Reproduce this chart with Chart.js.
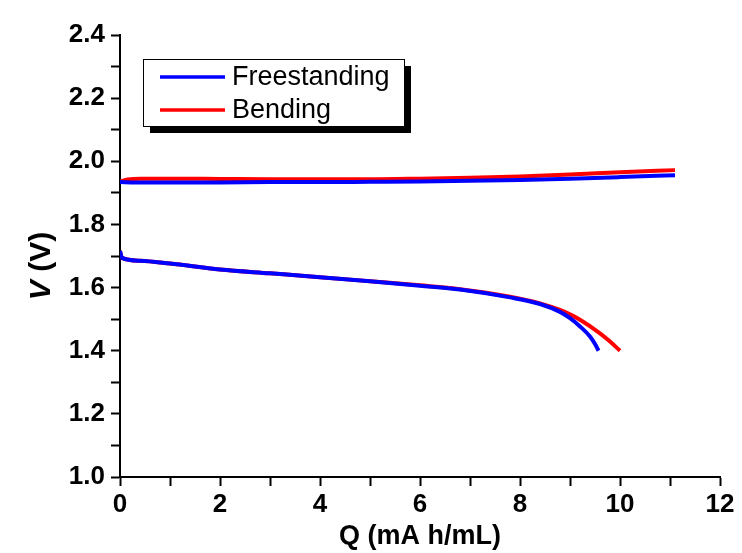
<!DOCTYPE html>
<html>
<head>
<meta charset="utf-8">
<script src="https://cdn.jsdelivr.net/npm/chart.js@4.4.1/dist/chart.umd.min.js"></script>
<style>
  html, body { margin: 0; padding: 0; background: #fff; }
  #wrap { width: 742px; height: 553px; }
</style>
</head>
<body>
<div id="wrap"><canvas id="myChart"></canvas></div>
<script>
const seriesNames = ['Freestanding', 'Bending'];
const seriesColors = ['rgb(0, 0, 255)', 'rgb(255, 0, 0)'];

// charge (upper) branches
const chargeQ_free = [0, 0.3, 1, 2, 3, 4, 5, 6, 7, 8, 9, 10, 11.1];
const chargeV_free = [1.934, 1.933, 1.933, 1.933, 1.934, 1.934, 1.935, 1.936, 1.938, 1.941, 1.945, 1.950, 1.956];
const chargeQ_bend = [0, 0.15, 0.4, 1, 2, 3, 4, 5, 6, 7, 8, 9, 10, 11.1];
const chargeV_bend = [1.936, 1.942, 1.945, 1.945, 1.944, 1.943, 1.943, 1.943, 1.945, 1.948, 1.952, 1.958, 1.965, 1.972];

// discharge (lower) branches
const dischQ_free = [0, 0.04, 0.4, 1, 2, 3, 4, 5, 6, 6.8, 7.8, 8.4, 8.8, 9.0, 9.2, 9.4, 9.5, 9.57];
const dischV_free = [1.716, 1.694, 1.685, 1.676, 1.657, 1.645, 1.633, 1.620, 1.606, 1.594, 1.569, 1.548, 1.523, 1.503, 1.477, 1.445, 1.421, 1.400];
const dischQ_bend = [0, 0.04, 0.4, 1, 2, 3, 4, 5, 6, 6.8, 7.8, 8.4, 8.8, 9.0, 9.2, 9.6, 9.8, 10.0];
const dischV_bend = [1.716, 1.694, 1.685, 1.676, 1.657, 1.645, 1.633, 1.620, 1.607, 1.595, 1.571, 1.550, 1.529, 1.515, 1.498, 1.455, 1.429, 1.400];

const xTicks = [0, 2, 4, 6, 8, 10, 12];
const yTicks = [1.0, 1.2, 1.4, 1.6, 1.8, 2.0, 2.2, 2.4];

const toPts = (xs, ys) => xs.map((x, i) => ({ x: x, y: ys[i] }));

const line = (label, color, pts, legend) => ({
  label: label,
  data: pts,
  borderColor: color,
  backgroundColor: color,
  borderWidth: 4,
  pointRadius: 0,
  cubicInterpolationMode: 'monotone',
  showLine: true,
  fill: false,
  inLegend: legend
});

const data = {
  datasets: [
    line(seriesNames[0], seriesColors[0], toPts(chargeQ_free, chargeV_free), true),
    line(seriesNames[0], seriesColors[0], toPts(dischQ_free, dischV_free), false),
    line(seriesNames[1], seriesColors[1], toPts(chargeQ_bend, chargeV_bend), true),
    line(seriesNames[1], seriesColors[1], toPts(dischQ_bend, dischV_bend), false)
  ]
};

const FONT = '"Liberation Sans", Arial, sans-serif';

// y-axis title with italic V, and a legend box with shadow
const extras = {
  id: 'extras',
  afterDraw(chart) {
    const c = chart.ctx;
    c.save();
    // y title
    c.translate(42, 266);
    c.rotate(-Math.PI / 2);
    c.fillStyle = '#000';
    c.textBaseline = 'middle';
    const a = 'V';
    const b = ' (V)';
    c.font = 'italic bold 30px ' + FONT;
    const wa = c.measureText(a).width;
    c.font = 'bold 30px ' + FONT;
    const wb = c.measureText(b).width;
    const start = -(wa + wb) / 2;
    c.textAlign = 'left';
    c.font = 'italic bold 30px ' + FONT;
    c.fillText(a, start, 0);
    c.font = 'bold 30px ' + FONT;
    c.fillText(b, start + wa, 0);
    c.restore();

    // legend
    const bx = 143, by = 59, bw = 261, bh = 67;
    c.save();
    c.fillStyle = '#000';
    c.fillRect(bx + 7, by + 7, bw, bh);
    c.fillStyle = '#fff';
    c.fillRect(bx, by, bw, bh);
    c.strokeStyle = '#000';
    c.lineWidth = 1;
    c.strokeRect(bx + 0.5, by + 0.5, bw, bh);
    const items = chart.data.datasets.filter(d => d.inLegend);
    items.forEach((d, i) => {
      const yy = by + 18 + i * 33;
      c.strokeStyle = d.borderColor;
      c.lineWidth = 3.5;
      c.beginPath();
      c.moveTo(160, yy);
      c.lineTo(225, yy);
      c.stroke();
      c.fillStyle = '#000';
      c.font = '27px ' + FONT;
      c.textBaseline = 'middle';
      c.textAlign = 'left';
      c.fillText(d.label, 232, yy + 1);
    });
    c.restore();
  }
};

new Chart(document.getElementById('myChart'), {
  type: 'scatter',
  data: data,
  options: {
    responsive: true,
    maintainAspectRatio: false,
    animation: false,
    layout: { padding: { top: 35, right: 22, left: 0, bottom: 0 } },
    plugins: {
      legend: { display: false },
      tooltip: { enabled: false }
    },
    scales: {
      x: {
        type: 'linear',
        min: 0,
        max: 12,
        afterFit: (s) => { s.height = 76; },
        afterBuildTicks: (s) => {
          s.ticks = [];
          for (let v = 0; v <= 12; v += 1) s.ticks.push({ value: v });
        },
        border: { color: '#000', width: 2 },
        grid: {
          drawOnChartArea: false,
          drawTicks: true,
          tickLength: 9,
          color: '#000',
          tickColor: '#000',
          tickWidth: 2
        },
        ticks: {
          color: '#000',
          padding: 3,
          maxRotation: 0,
          autoSkip: false,
          font: { family: FONT, size: 26, weight: 'bold' },
          callback: (v) => xTicks.includes(v) ? String(v) : ''
        },
        title: {
          display: true,
          text: 'Q (mA h/mL)',
          color: '#000',
          padding: { top: 0, bottom: 0 },
          font: { family: FONT, size: 27, weight: 'bold' }
        }
      },
      y: {
        type: 'linear',
        min: 1.0,
        max: 2.4,
        afterFit: (s) => { s.width = 120; },
        afterBuildTicks: (s) => {
          s.ticks = [];
          for (let k = 10; k <= 24; k += 1) s.ticks.push({ value: k / 10 });
        },
        border: { color: '#000', width: 2 },
        grid: {
          drawOnChartArea: false,
          drawTicks: true,
          tickLength: 9,
          color: '#000',
          tickColor: '#000',
          tickWidth: 2
        },
        ticks: {
          color: '#000',
          padding: 6,
          autoSkip: false,
          font: { family: FONT, size: 26, weight: 'bold' },
          callback: (v) => {
            const k = Math.round(v * 10);
            return yTicks.some(t => Math.round(t * 10) === k) ? (k / 10).toFixed(1) : '';
          }
        }
      }
    }
  },
  plugins: [extras]
});
</script>
</body>
</html>
